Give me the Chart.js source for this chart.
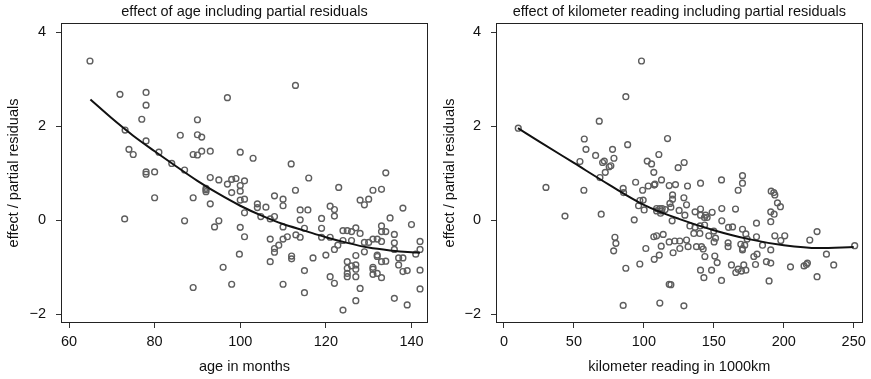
<!DOCTYPE html>
<html>
<head>
<meta charset="utf-8">
<script src="https://cdn.jsdelivr.net/npm/chart.js@4/dist/chart.umd.min.js"></script>
<style>
  html, body { margin: 0; padding: 0; background: #fff; }
  #wrap { position: relative; width: 871px; height: 379px; overflow: hidden; }
  canvas { position: absolute; top: 0; }
</style>
</head>
<body>
<div id="wrap">
  <canvas id="c1" width="436" height="379" style="left:0px"></canvas>
  <canvas id="c2" width="435" height="379" style="left:436px"></canvas>
</div>
<script>
// ---------- data: panel 1 (age) ----------
const ageTitle = "effect of age including partial residuals";
const ageXLabel = "age in months";
const yLabel = "effect / partial residuals";
const ageTicks = [60, 80, 100, 120, 140];
const yTicks = [-2, 0, 2, 4];

const ageX = [64.9,71.9,78,78,77,73.1,78,74,75,81,78,78,80,84,86,87,90,90,91,89,90,91,93,93,95,97,98,99,97,100,100,92,112.9,103,111.9,116,134,101,112.9,123,131,133,98,100,92,92,89,93,100,101,108,110,110,104,104,106,101,104.8,107,108,114,115.8,114,110,115,95,94,87,100,101,107,110,111,113,114,80,73,99.8,96,89,98,108,108,109,107,112,112,117,115,110,115,119,119,121,122,122,121,119,122.8,122,124,120,121,122,124,124,125,126,127,128,126,127,125,125,125,125,126,127,127,127,128,127,128,129,130,129,130,129,131,132,133,133,134,133,132,132,134,133,131,131,131,132,133,135,136,136,136,137,138,137,138,140,139,138,136,139,141,142,142,142,142];
const ageY = [3.39,2.68,2.72,2.45,2.15,1.92,1.69,1.51,1.40,1.45,1.03,0.98,1.03,1.21,1.81,1.07,2.14,1.82,1.77,1.40,1.39,1.47,1.47,0.91,0.86,0.77,0.87,0.89,2.61,1.45,0.74,0.68,2.87,1.32,1.20,0.90,1.01,0.84,0.64,0.70,0.64,0.66,0.59,0.62,0.65,0.61,0.48,0.35,0.43,0.45,0.52,0.45,0.31,0.35,0.27,0.28,0.16,0.08,0.03,0.08,0.22,0.22,0.01,-0.14,-0.17,-0.01,-0.14,-0.01,-0.15,-0.35,-0.40,-0.40,-0.35,-0.31,-0.36,0.48,0.03,-0.72,-1.00,-1.43,-1.36,-0.60,-0.68,-0.53,-0.88,-0.76,-0.82,-0.80,-1.07,-1.36,-1.54,0.04,-0.17,0.30,0.23,0.09,-0.36,-0.36,-0.53,-0.62,-0.43,-0.74,-1.20,-1.34,-1.91,-0.22,-0.22,-0.24,-0.16,-0.28,-0.43,-0.75,-0.88,-1.02,-1.13,-1.20,-0.97,-0.95,-1.04,-1.20,-1.45,-1.71,0.43,0.33,0.45,-0.47,-0.47,-0.67,-0.40,-0.40,-0.45,-0.12,-0.24,-0.24,-0.74,-0.77,-0.87,-0.88,-1.00,-1.04,-1.15,-1.13,-1.22,0.05,-0.30,-0.48,-0.62,-0.80,-0.80,-0.95,0.26,-0.09,-1.07,-1.09,-1.66,-1.80,-0.72,-0.45,-0.62,-1.06,-1.46];

const ageCurveX = [65,70,75,80,85,90,95,100,105,110,115,120,125,130,135,140,142];
const ageCurveY = [2.57,2.17,1.80,1.47,1.15,0.84,0.56,0.31,0.10,-0.08,-0.22,-0.36,-0.48,-0.58,-0.64,-0.68,-0.69];

// ---------- data: panel 2 (kilometer) ----------
const kmTitle = "effect of kilometer reading including partial residuals";
const kmXLabel = "kilometer reading in 1000km";
const kmTicks = [0, 50, 100, 150, 200, 250];

const kmX = [10.2,98.3,87.1,68.1,57.4,58.6,65.5,77.6,88.4,78.6,70.5,71.7,54.3,76.4,75.2,72.4,68.6,102.4,105.5,110.7,116.9,107.1,112.6,94.1,85.2,30,57.1,99.1,103.1,107.4,107.9,118.1,124.5,128.8,122.6,131.2,140.5,155.5,170.5,170.5,167.4,191,85.5,120.5,120.5,118.6,128.6,130.5,97.1,99.5,96.2,100.2,109.1,111.4,113.1,109.1,112.6,115.2,119.3,111.9,125.2,129.3,136.6,140.5,140.5,144.1,145.2,143.3,148.8,155.7,165.5,155.7,160.5,163.4,120.2,132.9,136.6,140.2,143.4,135.7,140,146.4,150,69.5,93.1,79.3,107.1,109.1,113.8,43.6,80,78.4,101.4,112.4,111,107.4,97.1,87.1,85.2,111.4,118.1,118.1,180.5,190.7,190.7,193.1,193.6,195.5,197.6,192.9,150.2,151.2,125.7,122.1,130.5,131.6,125.7,120.9,137.6,141.2,142.4,143.6,150.7,152.4,148.4,140.5,142.9,155.5,119.3,128.6,160.2,160.2,170.5,172.9,173.8,169.3,170.5,170.5,172.1,162.6,165.7,167.4,169.8,172.9,171.4,180.5,184.8,178.6,180.9,179.8,187.6,190.7,189.5,190.7,193.6,197.9,200.7,204.8,214.5,216.2,216.9,218.6,223.8,223.8,230.5,235.7,250.7];
const kmY = [1.96,3.39,2.63,2.11,1.73,1.51,1.38,1.51,1.61,1.32,1.23,1.26,1.25,1.16,1.14,1.02,0.91,1.26,1.20,1.40,1.74,1.02,0.86,0.81,0.68,0.70,0.64,0.64,0.73,0.75,0.77,0.74,1.12,1.23,0.76,0.73,0.79,0.86,0.95,0.79,0.64,0.62,0.59,0.54,0.45,0.36,0.48,0.33,0.42,0.43,0.31,0.22,0.25,0.25,0.25,0.20,0.20,0.23,0.28,0.15,0.21,0.11,0.18,0.24,0.11,0.11,0.06,0.06,0.17,0.25,0.24,-0.01,-0.15,-0.14,-0.01,-0.12,-0.15,-0.12,-0.10,-0.28,-0.28,-0.33,-0.23,0.13,0.01,-0.36,-0.35,-0.33,-0.30,0.09,-0.49,-0.65,-0.60,-0.55,-0.74,-0.83,-0.93,-1.02,-1.81,-1.76,-0.46,-1.36,-0.06,-0.03,0.18,0.13,0.54,0.37,0.29,0.59,-0.46,-0.38,-0.44,-0.44,-0.42,-0.56,-0.60,-0.69,-0.56,-0.56,-0.61,-0.77,-0.76,-0.90,-1.06,-1.06,-1.22,-1.28,-1.37,-1.82,-0.48,-0.56,-0.19,-0.29,-0.40,-0.51,-0.60,-0.63,-0.53,-0.95,-1.11,-1.04,-1.08,-1.06,-0.95,-0.35,-0.53,-0.77,-0.72,-0.94,-0.88,-0.91,-1.29,-0.63,-0.33,-0.43,-0.33,-0.99,-0.97,-0.94,-0.91,-0.42,-0.24,-1.20,-0.72,-0.95,-0.54];

const kmCurveX = [10,25,50,75,100,125,150,175,200,225,250];
const kmCurveY = [1.96,1.68,1.22,0.76,0.33,0.03,-0.21,-0.40,-0.53,-0.59,-0.57];

// ---------- chart building ----------
const FONT = '"Liberation Sans", Arial, Helvetica, sans-serif';
const FS = 14.5;
const TXT = '#111';

const boxTitlePlugin = {
  id: 'boxTitle',
  afterDraw(chart, args, opts) {
    const { ctx, chartArea: a } = chart;
    ctx.save();
    ctx.strokeStyle = '#222';
    ctx.lineWidth = 1;
    const l = Math.round(a.left) + 0.5, t = Math.round(a.top) + 0.5;
    const r = Math.round(a.right) - 0.5, b = Math.round(a.bottom) - 0.5;
    ctx.strokeRect(l, t, r - l, b - t);
    ctx.font = FS + 'px ' + FONT;
    ctx.fillStyle = TXT;
    ctx.textAlign = 'center';
    ctx.textBaseline = 'middle';
    ctx.fillText(opts.text, (a.left + a.right) / 2, 11.5);
    ctx.restore();
  }
};

const fmt = v => (v < 0 ? '\u2212' + Math.abs(v) : String(v));

function makeChart(id, title, xLabel, xs, ys, cx, cy, xTickVals, xMin, xMax, yAxisWidth, padRight) {
  const pts = xs.map((x, i) => ({ x: x, y: ys[i] }));
  const curve = cx.map((x, i) => ({ x: x, y: cy[i] }));
  return new Chart(document.getElementById(id), {
    type: 'scatter',
    data: {
      datasets: [
        {
          data: curve, showLine: true, pointRadius: 0, borderColor: '#111',
          borderWidth: 2, cubicInterpolationMode: 'monotone', fill: false, order: 0
        },
        {
          data: pts, pointRadius: 2.9, pointStyle: 'circle',
          backgroundColor: 'rgba(0,0,0,0)', borderColor: '#5e5e5e', borderWidth: 1.4, order: 1
        }
      ]
    },
    options: {
      responsive: false,
      animation: false,
      events: [],
      layout: { padding: { top: 23, right: padRight, left: 0, bottom: 0 } },
      plugins: {
        legend: { display: false },
        tooltip: { enabled: false },
        boxTitle: { text: title }
      },
      scales: {
        x: {
          type: 'linear', min: xMin, max: xMax,
          afterBuildTicks: s => { s.ticks = xTickVals.map(v => ({ value: v })); },
          afterFit: s => { s.height = 56; },
          border: { display: false },
          grid: { drawOnChartArea: false, drawTicks: true, tickLength: 5, color: '#333', lineWidth: 1 },
          ticks: { font: { family: FONT, size: FS }, color: TXT, padding: 5, maxRotation: 0, callback: v => fmt(v) },
          title: { display: true, text: xLabel, font: { family: FONT, size: FS }, color: TXT, padding: { top: 0, bottom: 3 } }
        },
        y: {
          type: 'linear', min: -2.185, max: 4.198,
          afterBuildTicks: s => { s.ticks = yTicks.map(v => ({ value: v })); },
          afterFit: s => { s.width = yAxisWidth; },
          border: { display: false },
          grid: { drawOnChartArea: false, drawTicks: true, tickLength: 5, color: '#333', lineWidth: 1 },
          ticks: { font: { family: FONT, size: FS }, color: TXT, padding: 10, callback: v => fmt(v) },
          title: { display: true, text: yLabel, font: { family: FONT, size: FS }, color: TXT, padding: { top: 5, bottom: 0 } }
        }
      }
    },
    plugins: [boxTitlePlugin]
  });
}

makeChart('c1', ageTitle, ageXLabel, ageX, ageY, ageCurveX, ageCurveY, ageTicks, 58.13, 143.86, 61, 8);
makeChart('c2', kmTitle, kmXLabel, kmX, kmY, kmCurveX, kmCurveY, kmTicks, -5.71, 256.45, 60, 7.7);
</script>
</body>
</html>
